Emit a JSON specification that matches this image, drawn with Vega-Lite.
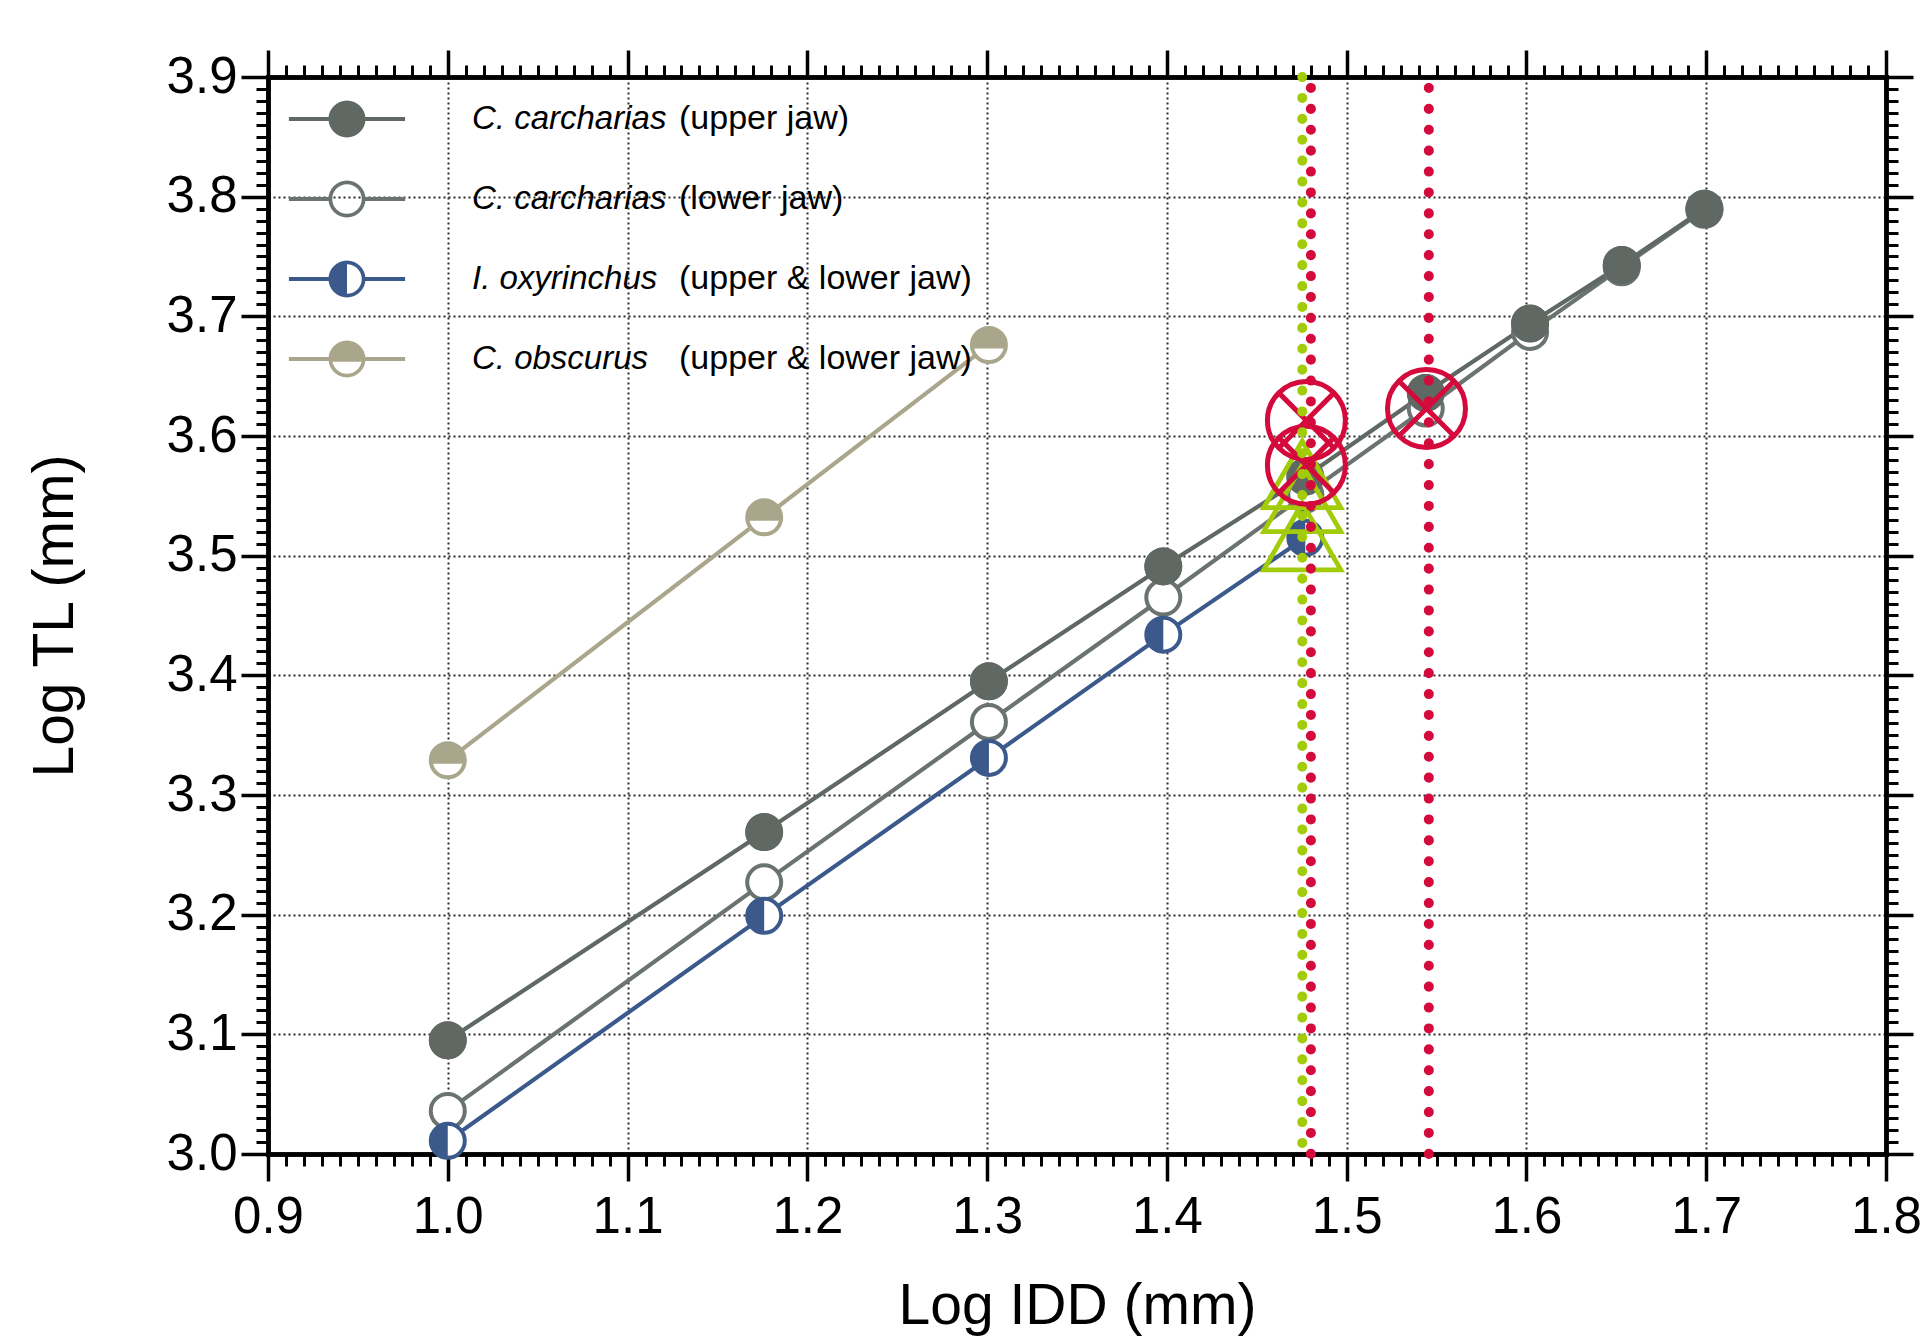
{
  "$schema": "https://vega.github.io/schema/vega-lite/v6.json",
  "width": 1618,
  "height": 1077,
  "autosize": {"type": "none"},
  "padding": {"left": 268, "top": 77, "right": 37, "bottom": 186},
  "background": "white",
  "datasets": {
    "main": [
      {"series": "C. obscurus (upper & lower jaw)", "logIDD": 1.0, "logTL": 3.329},
      {"series": "C. obscurus (upper & lower jaw)", "logIDD": 1.176, "logTL": 3.532},
      {"series": "C. obscurus (upper & lower jaw)", "logIDD": 1.301, "logTL": 3.676},
      {"series": "C. carcharias (lower jaw)", "logIDD": 1.0, "logTL": 3.036},
      {"series": "C. carcharias (lower jaw)", "logIDD": 1.176, "logTL": 3.227},
      {"series": "C. carcharias (lower jaw)", "logIDD": 1.301, "logTL": 3.361},
      {"series": "C. carcharias (lower jaw)", "logIDD": 1.398, "logTL": 3.465},
      {"series": "C. carcharias (lower jaw)", "logIDD": 1.477, "logTL": 3.551},
      {"series": "C. carcharias (lower jaw)", "logIDD": 1.544, "logTL": 3.623},
      {"series": "C. carcharias (lower jaw)", "logIDD": 1.602, "logTL": 3.687},
      {"series": "C. carcharias (lower jaw)", "logIDD": 1.653, "logTL": 3.741},
      {"series": "C. carcharias (lower jaw)", "logIDD": 1.699, "logTL": 3.789},
      {"series": "C. carcharias (upper jaw)", "logIDD": 1.0, "logTL": 3.095},
      {"series": "C. carcharias (upper jaw)", "logIDD": 1.176, "logTL": 3.269},
      {"series": "C. carcharias (upper jaw)", "logIDD": 1.301, "logTL": 3.395},
      {"series": "C. carcharias (upper jaw)", "logIDD": 1.398, "logTL": 3.491},
      {"series": "C. carcharias (upper jaw)", "logIDD": 1.477, "logTL": 3.566},
      {"series": "C. carcharias (upper jaw)", "logIDD": 1.544, "logTL": 3.636},
      {"series": "C. carcharias (upper jaw)", "logIDD": 1.602, "logTL": 3.694},
      {"series": "C. carcharias (upper jaw)", "logIDD": 1.653, "logTL": 3.743},
      {"series": "C. carcharias (upper jaw)", "logIDD": 1.699, "logTL": 3.790},
      {"series": "I. oxyrinchus (upper & lower jaw)", "logIDD": 1.0, "logTL": 3.011},
      {"series": "I. oxyrinchus (upper & lower jaw)", "logIDD": 1.176, "logTL": 3.199},
      {"series": "I. oxyrinchus (upper & lower jaw)", "logIDD": 1.301, "logTL": 3.331},
      {"series": "I. oxyrinchus (upper & lower jaw)", "logIDD": 1.398, "logTL": 3.434},
      {"series": "I. oxyrinchus (upper & lower jaw)", "logIDD": 1.477, "logTL": 3.515}
    ],
    "triangles": [
      {"logIDD": 1.4753, "logTL": 3.568},
      {"logIDD": 1.4753, "logTL": 3.548},
      {"logIDD": 1.4753, "logTL": 3.516}
    ],
    "crosses": [
      {"logIDD": 1.4776, "logTL": 3.613},
      {"logIDD": 1.4776, "logTL": 3.5756},
      {"logIDD": 1.5444, "logTL": 3.623}
    ],
    "greenLine": [{"logIDD": 1.4753}],
    "redLines": [{"logIDD": 1.4801}, {"logIDD": 1.5457}]
  },
  "data": {"name": "main"},
  "config": {
    "view": {"stroke": null},
    "font": "Liberation Sans",
    "axis": {"tickColor": "black", "domainColor": "black", "labelColor": "black", "titleColor": "black", "domainCap": "square"}
  },
  "resolve": {"axis": {"x": "independent", "y": "independent"}},
  "layer": [
    {
      "mark": {"type": "line", "strokeWidth": 4.2},
      "encoding": {
        "x": {
          "field": "logIDD", "type": "quantitative",
          "scale": {"domain": [0.9, 1.8], "nice": false, "zero": false},
          "axis": {
            "orient": "bottom", "values": [0.9, 1.0, 1.1, 1.2, 1.3, 1.4, 1.5, 1.6, 1.7, 1.8],
            "format": ".1f", "tickSize": 27, "tickWidth": 3.5, "domainWidth": 4.5,
            "labelFontSize": 51, "labelPadding": 11, "labelFlush": false, "labelOverlap": false,
            "grid": true, "gridDash": [2, 3], "gridColor": "#2a2a2a", "gridWidth": 2,
            "title": "Log IDD (mm)", "titleFontSize": 57, "titleFontWeight": "normal", "titlePadding": 36
          }
        },
        "y": {
          "field": "logTL", "type": "quantitative",
          "scale": {"domain": [3.0, 3.9], "nice": false, "zero": false},
          "axis": {
            "orient": "left", "values": [3.0, 3.1, 3.2, 3.3, 3.4, 3.5, 3.6, 3.7, 3.8, 3.9],
            "format": ".1f", "tickSize": 27, "tickWidth": 3.5, "domainWidth": 4.5,
            "labelFontSize": 51, "labelPadding": 4, "labelFlush": false, "labelOverlap": false,
            "grid": true, "gridDash": [2, 3], "gridColor": "#2a2a2a", "gridWidth": 2,
            "title": "Log TL (mm)", "titleFontSize": 57, "titleFontWeight": "normal", "titlePadding": 82
          }
        },
        "stroke": {
          "field": "series", "type": "nominal", "legend": null,
          "scale": {
            "domain": ["C. carcharias (upper jaw)", "C. carcharias (lower jaw)", "I. oxyrinchus (upper & lower jaw)", "C. obscurus (upper & lower jaw)", "unused"],
            "range": ["#5f6863", "#6a736f", "#3b5a8b", "#aaa68c", "#000000"]
          }
        }
      }
    },
    {
      "mark": {"type": "point", "shape": "circle", "filled": true, "fill": "white", "size": 1156, "strokeWidth": 4, "opacity": 1},
      "encoding": {
        "x": {"field": "logIDD", "type": "quantitative",
          "axis": {"orient": "bottom", "tickCount": 90, "labels": false, "tickSize": 12, "tickWidth": 3, "domainWidth": 4.5, "grid": false, "title": null}},
        "y": {"field": "logTL", "type": "quantitative",
          "axis": {"orient": "left", "tickCount": 90, "labels": false, "tickSize": 12, "tickWidth": 3, "domainWidth": 4.5, "grid": false, "title": null}},
        "stroke": {"field": "series", "type": "nominal", "legend": null}
      }
    },
    {
      "transform": [{"filter": "datum.series === 'C. carcharias (upper jaw)'"}],
      "mark": {"type": "point", "shape": "circle", "filled": true, "color": "#5f6863", "size": 1420, "strokeWidth": 0, "opacity": 1},
      "encoding": {
        "x": {"field": "logIDD", "type": "quantitative",
          "axis": {"orient": "top", "values": [0.9, 1.0, 1.1, 1.2, 1.3, 1.4, 1.5, 1.6, 1.7, 1.8], "labels": false, "tickSize": 27, "tickWidth": 3.5, "domainWidth": 4.5, "grid": false, "title": null}},
        "y": {"field": "logTL", "type": "quantitative",
          "axis": {"orient": "right", "values": [3.0, 3.1, 3.2, 3.3, 3.4, 3.5, 3.6, 3.7, 3.8, 3.9], "labels": false, "tickSize": 27, "tickWidth": 3.5, "domainWidth": 4.5, "grid": false, "title": null}}
      }
    },
    {
      "transform": [{"filter": "datum.series === 'I. oxyrinchus (upper & lower jaw)'"}],
      "mark": {"type": "point", "shape": "M0,-1A1,1 0 0,0 0,1Z", "filled": true, "color": "#3b5a8b", "size": 1156, "strokeWidth": 0, "opacity": 1},
      "encoding": {
        "x": {"field": "logIDD", "type": "quantitative",
          "axis": {"orient": "top", "tickCount": 90, "labels": false, "tickSize": 12, "tickWidth": 3, "domainWidth": 4.5, "grid": false, "title": null}},
        "y": {"field": "logTL", "type": "quantitative",
          "axis": {"orient": "right", "tickCount": 90, "labels": false, "tickSize": 12, "tickWidth": 3, "domainWidth": 4.5, "grid": false, "title": null}}
      }
    },
    {
      "transform": [{"filter": "datum.series === 'C. obscurus (upper & lower jaw)'"}],
      "mark": {"type": "point", "shape": "M-0.98,0.2A1,1 0 1,1 0.98,0.2Z", "filled": true, "color": "#aaa68c", "size": 1156, "strokeWidth": 0, "opacity": 1},
      "encoding": {
        "x": {"field": "logIDD", "type": "quantitative", "axis": null},
        "y": {"field": "logTL", "type": "quantitative", "axis": null}
      }
    },
    {
      "transform": [{"filter": "datum.logTL < 0"}],
      "mark": {"type": "point", "filled": true, "size": 1369, "strokeWidth": 0, "opacity": 1},
      "encoding": {
        "x": {"field": "logIDD", "type": "quantitative", "axis": null},
        "y": {"field": "logTL", "type": "quantitative", "axis": null},
        "color": {
          "field": "series", "type": "nominal",
          "scale": {
            "domain": ["C. carcharias (upper jaw)", "C. carcharias (lower jaw)", "I. oxyrinchus (upper & lower jaw)", "C. obscurus (upper & lower jaw)"],
            "range": ["#5f6863", "#6a736f", "#3b5a8b", "#aaa68c"]
          },
          "legend": {
            "orient": "none", "legendX": 60.5, "legendY": 23.5, "padding": 0, "title": null,
            "symbolSize": 1369, "symbolStrokeWidth": 0, "symbolOpacity": 1,
            "labelFontSize": 33, "labelFontStyle": "italic", "labelColor": "black", "labelOffset": 106.5, "labelLimit": 0,
            "rowPadding": 43, "labelExpr": "split(datum.label, ' (')[0]"
          }
        },
        "shape": {
          "field": "series", "type": "nominal",
          "scale": {
            "domain": ["C. carcharias (upper jaw)", "C. carcharias (lower jaw)", "I. oxyrinchus (upper & lower jaw)", "C. obscurus (upper & lower jaw)"],
            "range": [
              "M-3.14,-0.11L-0.9,-0.11L-0.9,0.11L-3.14,0.11Z M0.9,-0.11L3.14,-0.11L3.14,0.11L0.9,0.11Z M1,0A1,1 0 1,1 -1,0A1,1 0 1,1 1,0Z",
              "M-3.14,-0.11L-0.9,-0.11L-0.9,0.11L-3.14,0.11Z M0.9,-0.11L3.14,-0.11L3.14,0.11L0.9,0.11Z M1,0A1,1 0 1,1 -1,0A1,1 0 1,1 1,0Z M0.8,0A0.8,0.8 0 1,0 -0.8,0A0.8,0.8 0 1,0 0.8,0Z",
              "M-3.14,-0.11L-0.9,-0.11L-0.9,0.11L-3.14,0.11Z M0.9,-0.11L3.14,-0.11L3.14,0.11L0.9,0.11Z M1,0A1,1 0 1,1 -1,0A1,1 0 1,1 1,0Z M0.8,0A0.8,0.8 0 1,0 -0.8,0A0.8,0.8 0 1,0 0.8,0Z M0,-0.8A0.8,0.8 0 0,0 0,0.8Z",
              "M-3.14,-0.11L-0.9,-0.11L-0.9,0.11L-3.14,0.11Z M0.9,-0.11L3.14,-0.11L3.14,0.11L0.9,0.11Z M1,0A1,1 0 1,1 -1,0A1,1 0 1,1 1,0Z M0.8,0A0.8,0.8 0 1,0 -0.8,0A0.8,0.8 0 1,0 0.8,0Z M-0.78,0.15A0.8,0.8 0 1,1 0.78,0.15Z"
            ]
          },
          "legend": {
            "orient": "none", "legendX": 60.5, "legendY": 23.5, "padding": 0, "title": null,
            "symbolSize": 1369, "symbolStrokeWidth": 0, "symbolOpacity": 1,
            "labelFontSize": 33, "labelFontStyle": "italic", "labelColor": "black", "labelOffset": 106.5, "labelLimit": 0,
            "rowPadding": 43, "labelExpr": "split(datum.label, ' (')[0]"
          }
        }
      }
    },
    {
      "transform": [{"filter": "datum.logTL > 99"}, {"fold": ["series"], "as": ["seriesKey", "seriesName"]}],
      "mark": {"type": "point", "size": 1369, "strokeWidth": 0},
      "encoding": {
        "x": {"field": "logIDD", "type": "quantitative", "axis": null},
        "y": {"field": "logTL", "type": "quantitative", "axis": null},
        "opacity": {
          "field": "seriesName", "type": "nominal",
          "scale": {
            "domain": ["C. carcharias (upper jaw)", "C. carcharias (lower jaw)", "I. oxyrinchus (upper & lower jaw)", "C. obscurus (upper & lower jaw)", "none"],
            "range": [0, 0, 0, 0, 0]
          },
          "legend": {
            "orient": "none", "legendX": 374, "legendY": 23.5, "title": null, "padding": 0,
            "values": ["C. carcharias (upper jaw)", "C. carcharias (lower jaw)", "I. oxyrinchus (upper & lower jaw)", "C. obscurus (upper & lower jaw)"],
            "symbolSize": 1369, "symbolOpacity": 0, "symbolStrokeWidth": 0,
            "labelFontSize": 34, "labelColor": "black", "labelOffset": 0, "labelLimit": 0,
            "rowPadding": 43, "labelExpr": "'(' + split(datum.label, ' (')[1]"
          }
        }
      }
    },
    {
      "data": {"name": "triangles"},
      "mark": {"type": "point", "shape": "triangle-up", "filled": false, "color": "#a2cc0a", "size": 5929, "strokeWidth": 4.8, "opacity": 1},
      "encoding": {
        "x": {"field": "logIDD", "type": "quantitative", "axis": null},
        "y": {"field": "logTL", "type": "quantitative", "axis": null}
      }
    },
    {
      "data": {"name": "crosses"},
      "mark": {"type": "point", "shape": "M1,0A1,1 0 1,1 -1,0A1,1 0 1,1 1,0Z M-0.707,-0.707L0.707,0.707 M-0.707,0.707L0.707,-0.707", "filled": false, "color": "#d40a3c", "size": 6084, "strokeWidth": 5, "opacity": 1},
      "encoding": {
        "x": {"field": "logIDD", "type": "quantitative", "axis": null},
        "y": {"field": "logTL", "type": "quantitative", "axis": null}
      }
    },
    {
      "data": {"name": "greenLine"},
      "mark": {"type": "rule", "color": "#a2cc0a", "strokeWidth": 10, "strokeDash": [0.1, 20.8], "strokeCap": "round"},
      "encoding": {
        "x": {"field": "logIDD", "type": "quantitative", "axis": null}
      }
    },
    {
      "data": {"name": "redLines"},
      "mark": {"type": "rule", "color": "#d40a3c", "strokeWidth": 10, "strokeDash": [0.1, 20.8], "strokeCap": "round", "strokeDashOffset": 10},
      "encoding": {
        "x": {"field": "logIDD", "type": "quantitative", "axis": null}
      }
    }
  ]
}
